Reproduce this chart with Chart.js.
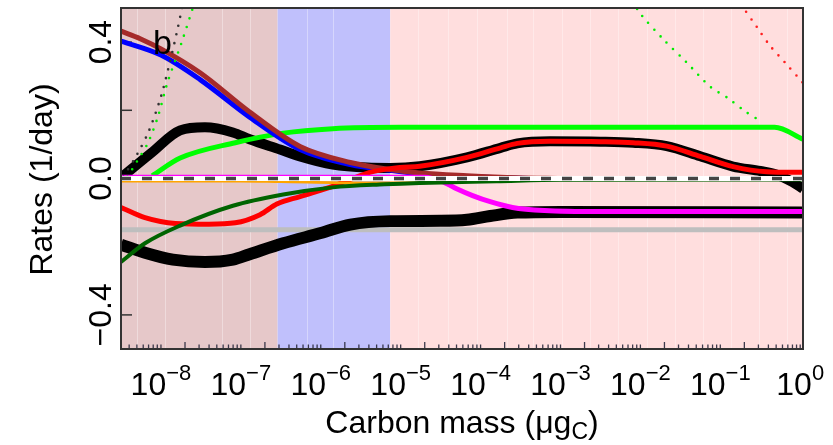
<!DOCTYPE html>
<html><head><meta charset="utf-8">
<script src="https://cdn.jsdelivr.net/npm/chart.js@4/dist/chart.umd.min.js"></script>
<style>html,body{margin:0;padding:0;background:#fff;}canvas{display:block;}</style>
</head><body>
<canvas id="c" width="833" height="445"></canvas>
<script>
// ---------- axes ----------
const X_MIN_EXP = -8.5, X_MAX_EXP = 0.035;   // log10 of carbon mass
const Y_MIN = -0.5, Y_MAX = 0.5;
const decadeExponents = [-8, -7, -6, -5, -4, -3, -2, -1, 0];
const yTickValues = [-0.4, -0.2, 0, 0.2, 0.4];
const yTickLabels = ['\u22120.4', '', '0.0', '', '0.4'];
const yAxisTitle = 'Rates (1/day)';
const xAxisTitleMain = 'Carbon mass (\u03bcg';
const xAxisTitleSub = 'C';
const xAxisTitleEnd = ')';
const panelLabel = 'b';

// ---------- background regions (log10 mass) ----------
const regionFromExp = [-8.5, -6.54, -5.13];
const regionToExp = [-6.54, -5.13, 0.035];
const regionColors = ['#e6c8c9', '#c0c0fc', '#ffdede'];
const binEdgeExp = [-8.30, -7.95, -7.24, -6.89, -6.17, -5.85, -4.78, -4.41, -4.05, -3.67, -3.34,
  -2.98, -2.63, -2.28, -1.92, -1.57, -1.22, -0.86, -0.51, -0.16];

// ---------- series (x as log10 mass, y as rate 1/day) ----------
const greyExp = [-8.5, 0.035];
const greyVal = [-0.15, -0.15];

const blackLowerExp = [-8.5, -8.2, -7.85, -7.45, -7.1, -6.89, -6.47, -6.0, -5.63, -5.13, -4.5, -4.17, -3.88, -3.54, -3.0, 0.035];
const blackLowerVal = [-0.194, -0.218, -0.238, -0.245, -0.238, -0.222, -0.19, -0.16, -0.135, -0.125, -0.124, -0.121, -0.11, -0.1, -0.098, -0.1];

const blackUpperExp = [-8.5, -8.12, -7.76, -7.45, -7.1, -6.89, -6.51, -6.26, -5.85, -5.42, -5.13, -4.76, -4.17, -3.75, -3.54, -3.13, -2.5, -2.09, -1.67, -1.25, -0.84, -0.5, -0.3, -0.1, 0.035];
const blackUpperVal = [0.002, 0.075, 0.141, 0.15, 0.135, 0.115, 0.085, 0.065, 0.041, 0.032, 0.031, 0.036, 0.062, 0.09, 0.103, 0.109, 0.108, 0.105, 0.095, 0.065, 0.035, 0.022, 0.012, -0.01, -0.03];

const redExp = [-8.5, -8.2, -7.82, -7.4, -7.07, -6.76, -6.55, -6.26, -5.85, -5.6, -5.35, -5.01, -4.76, -4.17, -3.75, -3.54, -3.13, -2.5, -2.09, -1.67, -1.25, -0.84, -0.42, 0.035];
const redVal = [-0.085, -0.115, -0.132, -0.134, -0.13, -0.106, -0.075, -0.053, -0.023, 0.0, 0.02, 0.032, 0.036, 0.062, 0.09, 0.103, 0.109, 0.108, 0.105, 0.095, 0.065, 0.035, 0.02, 0.018];

const magentaExp = [-8.5, -4.7, -4.45, -4.3, -4.1, -3.88, -3.6, -3.2, -2.5, 0.035];
const magentaVal = [0.004, 0.004, -0.012, -0.03, -0.05, -0.068, -0.085, -0.094, -0.097, -0.097];

const orangeExp = [-8.5, -7.0, -6.5, -5.5, -4.8, -4.3, -3.9, -3.5];
const orangeVal = [-0.007, -0.007, -0.009, -0.013, -0.013, -0.008, -0.003, 0.0];

const darkGreenExp = [-8.5, -8.2, -7.76, -7.1, -6.47, -5.85, -5.2, -4.76, -3.8, -3.0, 0.035];
const darkGreenVal = [-0.245, -0.19, -0.138, -0.08, -0.047, -0.026, -0.017, -0.013, -0.008, -0.004, -0.003];

const greenExp = [-8.11, -7.76, -7.07, -6.47, -5.85, -5.0, -0.32, 0.035];
const greenVal = [0.008, 0.06, 0.105, 0.133, 0.146, 0.15, 0.15, 0.115];

const blueExp = [-8.5, -8.0, -7.51, -6.89, -6.26, -5.63, -5.13, -4.76, -4.17, -3.54, -3.0];
const blueVal = [0.403, 0.362, 0.29, 0.18, 0.085, 0.041, 0.024, 0.014, 0.006, 0.001, 0.0];

const brownExp = [-8.5, -8.26, -8.0, -7.51, -6.89, -6.26, -5.63, -5.13, -4.76, -4.17, -3.54, -3.0];
const brownVal = [0.432, 0.41, 0.38, 0.31, 0.195, 0.094, 0.047, 0.026, 0.016, 0.008, 0.002, 0.0];

const blackDotExp = [-8.47, -8.3, -8.15, -8.0, -7.9, -7.8, -7.7];
const blackDotVal = [0.005, 0.07, 0.14, 0.24, 0.33, 0.43, 0.54];

const greenDotLeftExp = [-8.42, -8.3, -8.16, -8.04, -7.92, -7.74, -7.56];
const greenDotLeftVal = [0.005, 0.05, 0.106, 0.18, 0.28, 0.40, 0.53];

const greenDotRightExp = [-2.1, -1.99, -1.72, -1.42, -1.13, -0.90, -0.69, -0.47];
const greenDotRightVal = [0.52, 0.48, 0.41, 0.34, 0.27, 0.235, 0.197, 0.165];

const redDotExp = [-0.74, -0.53, -0.38, -0.19, 0.035];
const redDotVal = [0.51, 0.44, 0.39, 0.34, 0.28];

const zeroExp = [-8.5, 0.035];
const zeroVal = [0, 0];

// ---------- build ----------
const pts = (ex, vals) => ex.map((e, i) => ({ x: Math.pow(10, e), y: vals[i] }));
const FONT = '"Liberation Sans", Arial, Helvetica, sans-serif';

// drawn bottom -> top
const layers = [
  { d: pts(greyExp, greyVal), c: '#bebebe', w: 5 },
  { d: pts(blackLowerExp, blackLowerVal), c: '#000000', w: 12 },
  { d: pts(blackUpperExp, blackUpperVal), c: '#000000', w: 10 },
  { d: pts(greenExp, greenVal), c: '#00ff00', w: 5 },
  { d: pts(blueExp, blueVal), c: '#0000ff', w: 5 },
  { d: pts(brownExp, brownVal), c: '#a52a2a', w: 5 },
  { d: pts(redExp, redVal), c: '#ff0000', w: 5 },
  { d: pts(magentaExp, magentaVal), c: '#ff00ff', w: 5 },
  { d: pts(orangeExp, orangeVal), c: '#ffa500', w: 3 },
  { d: pts(darkGreenExp, darkGreenVal), c: '#006400', w: 4 },
  { d: pts(blackDotExp, blackDotVal), c: '#333333', w: 2.6, dot: true },
  { d: pts(greenDotLeftExp, greenDotLeftVal), c: '#00ee00', w: 2.6, dot: true },
  { d: pts(greenDotRightExp, greenDotRightVal), c: '#00ee00', w: 2.6, dot: true },
  { d: pts(redDotExp, redDotVal), c: '#ff2020', w: 2.6, dot: true },
  { d: pts(zeroExp, zeroVal), c: '#ffffff', w: 5, lin: true },
  { d: pts(zeroExp, zeroVal), c: '#444444', w: 3.5, dash: [10, 11], lin: true }
];
const N = layers.length;
const datasets = layers.map((L, i) => ({
  data: L.d,
  borderColor: L.c,
  borderWidth: L.w,
  pointRadius: 0,
  pointHoverRadius: 0,
  fill: false,
  cubicInterpolationMode: (L.dot || L.lin) ? 'default' : 'monotone',
  tension: L.dot ? 0.3 : 0,
  borderDash: L.dot ? [0, 9] : (L.dash || []),
  borderCapStyle: L.dot ? 'round' : 'butt',
  borderJoinStyle: 'round',
  order: N - i
}));

const decor = {
  id: 'decor',
  beforeDatasetsDraw(chart) {
    const { ctx, chartArea: a, scales: { x, y } } = chart;
    ctx.save();
    ctx.beginPath(); ctx.rect(a.left, a.top, a.right - a.left, a.bottom - a.top); ctx.clip();
    for (let i = 0; i < regionFromExp.length; i++) {
      const x0 = x.getPixelForValue(Math.pow(10, regionFromExp[i]));
      const x1 = x.getPixelForValue(Math.pow(10, regionToExp[i]));
      ctx.fillStyle = regionColors[i];
      ctx.fillRect(x0, a.top, x1 - x0, a.bottom - a.top);
    }
    ctx.strokeStyle = 'rgba(255,255,255,0.35)';
    ctx.lineWidth = 1;
    binEdgeExp.forEach(e => {
      const px = Math.round(x.getPixelForValue(Math.pow(10, e))) + 0.5;
      ctx.beginPath(); ctx.moveTo(px, a.top); ctx.lineTo(px, a.bottom); ctx.stroke();
    });
    // inward y ticks
    ctx.strokeStyle = '#333';
    ctx.lineWidth = 1.5;
    yTickValues.forEach(v => {
      const py = y.getPixelForValue(v);
      ctx.beginPath(); ctx.moveTo(a.left, py); ctx.lineTo(a.left + 11, py); ctx.stroke();
    });
    // inward minor x ticks
    ctx.lineWidth = 1.3;
    ctx.strokeStyle = 'rgba(40,40,60,0.9)';
    for (let e = -9; e <= 0; e++) {
      for (let k = 1; k <= 9; k++) {
        const v = k * Math.pow(10, e);
        if (v < x.min || v > x.max) continue;
        const px = x.getPixelForValue(v);
        const len = (k === 2) ? 7 : 4.5;
        ctx.beginPath(); ctx.moveTo(px, a.bottom); ctx.lineTo(px, a.bottom - len); ctx.stroke();
      }
    }
    ctx.restore();
  },
  afterDatasetsDraw(chart) {
    const { ctx, chartArea: a, scales: { x, y } } = chart;
    ctx.save();
    // frame
    ctx.strokeStyle = '#333';
    ctx.lineWidth = 2;
    ctx.strokeRect(a.left, a.top, a.right - a.left, a.bottom - a.top);
    ctx.fillStyle = '#000';
    // x tick labels 10^k
    decadeExponents.forEach(e => {
      const px = x.getPixelForValue(Math.pow(10, e));
      const base = '10';
      const sup = e < 0 ? '\u2212' + Math.abs(e) : String(e);
      ctx.font = '32px ' + FONT;
      const wb = ctx.measureText(base).width;
      ctx.font = '22px ' + FONT;
      const ws = ctx.measureText(sup).width;
      const x0 = px - (wb + ws) / 2;
      ctx.textAlign = 'left'; ctx.textBaseline = 'alphabetic';
      ctx.font = '32px ' + FONT;
      ctx.fillText(base, x0, a.bottom + 46);
      ctx.font = '22px ' + FONT;
      ctx.fillText(sup, x0 + wb, a.bottom + 31);
    });
    // y tick labels (rotated)
    ctx.font = '32px ' + FONT;
    yTickValues.forEach((v, i) => {
      if (!yTickLabels[i]) return;
      const py = y.getPixelForValue(v);
      ctx.save();
      ctx.translate(a.left - 10, py);
      ctx.rotate(-Math.PI / 2);
      ctx.textAlign = 'center';
      ctx.fillText(yTickLabels[i], 0, 0);
      ctx.restore();
    });
    // y title
    ctx.save();
    ctx.translate(a.left - 69, (a.top + a.bottom) / 2 + 1);
    ctx.rotate(-Math.PI / 2);
    ctx.textAlign = 'center';
    ctx.font = '32px ' + FONT;
    ctx.fillText(yAxisTitle, 0, 0);
    ctx.restore();
    // x title with subscript
    ctx.font = '32px ' + FONT;
    const w1 = ctx.measureText(xAxisTitleMain).width;
    const w3 = ctx.measureText(xAxisTitleEnd).width;
    ctx.font = '23px ' + FONT;
    const w2 = ctx.measureText(xAxisTitleSub).width;
    const cx = (a.left + a.right) / 2;
    let sx = cx - (w1 + w2 + w3) / 2;
    const by = a.bottom + 84;
    ctx.textAlign = 'left';
    ctx.font = '32px ' + FONT;
    ctx.fillText(xAxisTitleMain, sx, by);
    ctx.font = '23px ' + FONT;
    ctx.fillText(xAxisTitleSub, sx + w1, by + 6);
    ctx.font = '32px ' + FONT;
    ctx.fillText(xAxisTitleEnd, sx + w1 + w2, by);
    // panel label
    ctx.font = '34px ' + FONT;
    ctx.fillText(panelLabel, x.getPixelForValue(Math.pow(10, -8.1)), y.getPixelForValue(0.365));
    ctx.restore();
  }
};

new Chart(document.getElementById('c'), {
  type: 'line',
  data: { datasets },
  options: {
    responsive: false,
    devicePixelRatio: 1,
    animation: false,
    events: [],
    layout: { padding: { left: 0, right: 30, top: 8, bottom: 0 } },
    plugins: { legend: { display: false }, tooltip: { enabled: false }, title: { display: false } },
    scales: {
      x: {
        type: 'logarithmic',
        min: Math.pow(10, X_MIN_EXP), max: Math.pow(10, X_MAX_EXP),
        grid: { display: false }, border: { display: false },
        ticks: { display: false },
        afterFit: s => { s.height = 96; }
      },
      y: {
        type: 'linear', min: Y_MIN, max: Y_MAX,
        grid: { display: false }, border: { display: false },
        ticks: { display: false },
        afterFit: s => { s.width = 121; }
      }
    }
  },
  plugins: [decor]
});
</script>
</body></html>
